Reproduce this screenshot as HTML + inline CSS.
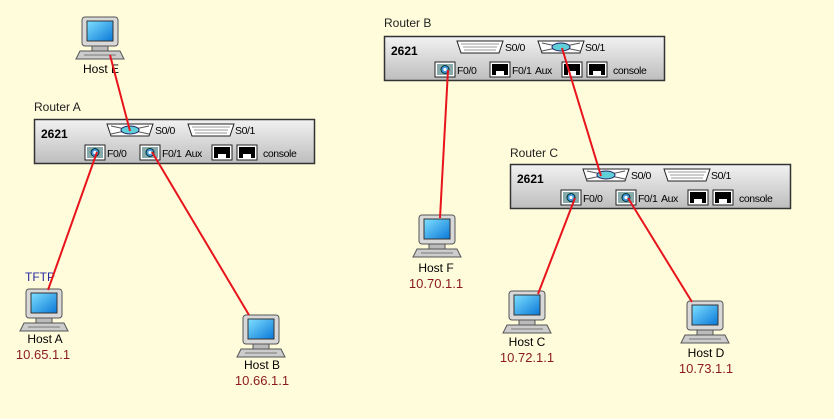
<!DOCTYPE html>
<html><head><meta charset="utf-8"><style>
html,body{margin:0;padding:0;background:#FFFCDC;}
svg{display:block;font-family:"Liberation Sans",sans-serif;}
.p{font-size:10.5px;letter-spacing:-0.4px;}
</style></head><body>
<svg width="834" height="419" viewBox="0 0 834 419" xmlns="http://www.w3.org/2000/svg">
<defs>
<linearGradient id="rg" x1="0" y1="0" x2="0" y2="1"><stop offset="0" stop-color="#f2f2f2"/><stop offset="1" stop-color="#bdbdbd"/></linearGradient>
<linearGradient id="scr" x1="0" y1="0" x2="1" y2="1"><stop offset="0" stop-color="#7fe0ff"/><stop offset="1" stop-color="#0a78d8"/></linearGradient>
<g id="host">
<rect x="0" y="0" width="36" height="29" rx="3" fill="#d8d8d8" stroke="#555"/>
<rect x="5" y="4" width="26" height="20" fill="url(#scr)" stroke="#333"/>
<rect x="10" y="29" width="16" height="5" fill="#bbb" stroke="#555"/>
<polygon points="-2,34 38,34 42,42 -6,42" fill="#ccc" stroke="#555"/>
<line x1="2" y1="38" x2="34" y2="38" stroke="#777"/>
</g>
<g id="ser">
<polygon points="0,0 46,0 42,12 4,12" fill="#fff" stroke="#222"/>
<line x1="4" y1="3" x2="42" y2="3" stroke="#999"/><line x1="6" y1="6" x2="40" y2="6" stroke="#999"/><line x1="7" y1="9" x2="39" y2="9" stroke="#999"/>
</g>
<g id="serc">
<polygon points="0,0 46,0 42,12 4,12" fill="#fff" stroke="#222"/>
<line x1="4" y1="2" x2="42" y2="10" stroke="#555"/><line x1="4" y1="10" x2="42" y2="2" stroke="#555"/>
<ellipse cx="23" cy="6" rx="9" ry="4" fill="#5fd0d8" stroke="#226"/>
</g>
<g id="eth">
<rect x="0" y="0" width="20" height="15" fill="#fff" stroke="#222"/>
<rect x="2" y="2" width="16" height="11" fill="#000"/>
<rect x="6" y="9" width="8" height="4" fill="#fff"/>
</g>
<g id="ethc">
<rect x="0" y="0" width="20" height="15" fill="#fff" stroke="#222"/>
<polygon points="2,2 18,2 18,13 2,13" fill="#8aa"/>
<circle cx="10" cy="7.5" r="4" fill="#49d" stroke="#033"/>
<circle cx="10" cy="7.5" r="1.6" fill="#fff"/>
</g>
</defs>

<text x="34" y="111" font-size="12" fill="#222">Router A</text>
<g transform="translate(34,119)">
<rect x="0.5" y="0.5" width="280" height="44" fill="url(#rg)" stroke="#333" stroke-width="1.5"/>
<text x="7" y="19" font-size="12" font-weight="bold">2621</text>
<use href="#serc" x="73" y="5"/><text x="121" y="15" class="p">S0/0</text>
<use href="#ser" x="154" y="5"/><text x="201" y="15" class="p">S0/1</text>
<use href="#ethc" x="51" y="26"/><text x="73" y="38" class="p">F0/0</text>
<use href="#ethc" x="106" y="26"/><text x="128" y="38" class="p">F0/1</text>
<text x="151" y="38" class="p">Aux</text>
<use href="#eth" x="178" y="26"/><use href="#eth" x="203" y="26"/>
<text x="229" y="38" class="p">console</text>
</g>
<text x="384" y="27" font-size="12" fill="#222">Router B</text>
<g transform="translate(384,36)">
<rect x="0.5" y="0.5" width="280" height="44" fill="url(#rg)" stroke="#333" stroke-width="1.5"/>
<text x="7" y="19" font-size="12" font-weight="bold">2621</text>
<use href="#ser" x="73" y="5"/><text x="121" y="15" class="p">S0/0</text>
<use href="#serc" x="154" y="5"/><text x="201" y="15" class="p">S0/1</text>
<use href="#ethc" x="51" y="26"/><text x="73" y="38" class="p">F0/0</text>
<use href="#eth" x="106" y="26"/><text x="128" y="38" class="p">F0/1</text>
<text x="151" y="38" class="p">Aux</text>
<use href="#eth" x="178" y="26"/><use href="#eth" x="203" y="26"/>
<text x="229" y="38" class="p">console</text>
</g>
<text x="510" y="157" font-size="12" fill="#222">Router C</text>
<g transform="translate(510,164)">
<rect x="0.5" y="0.5" width="280" height="44" fill="url(#rg)" stroke="#333" stroke-width="1.5"/>
<text x="7" y="19" font-size="12" font-weight="bold">2621</text>
<use href="#serc" x="73" y="5"/><text x="121" y="15" class="p">S0/0</text>
<use href="#ser" x="154" y="5"/><text x="201" y="15" class="p">S0/1</text>
<use href="#ethc" x="51" y="26"/><text x="73" y="38" class="p">F0/0</text>
<use href="#ethc" x="106" y="26"/><text x="128" y="38" class="p">F0/1</text>
<text x="151" y="38" class="p">Aux</text>
<use href="#eth" x="178" y="26"/><use href="#eth" x="203" y="26"/>
<text x="229" y="38" class="p">console</text>
</g>

<use href="#host" x="82" y="17"/>
<text x="101" y="73" font-size="12" text-anchor="middle">Host E</text>
<use href="#host" x="26" y="289"/>
<text x="25" y="281" font-size="12" fill="#2a2aa0">TFTP</text>
<text x="45" y="343" font-size="12" text-anchor="middle">Host A</text>
<text x="43" y="359" font-size="13" fill="#8a1a1a" text-anchor="middle">10.65.1.1</text>
<use href="#host" x="243" y="315"/>
<text x="262" y="369" font-size="12" text-anchor="middle">Host B</text>
<text x="262" y="385" font-size="13" fill="#8a1a1a" text-anchor="middle">10.66.1.1</text>
<use href="#host" x="419" y="215"/>
<text x="436" y="272" font-size="12" text-anchor="middle">Host F</text>
<text x="436" y="288" font-size="13" fill="#8a1a1a" text-anchor="middle">10.70.1.1</text>
<use href="#host" x="509" y="291"/>
<text x="527" y="346" font-size="12" text-anchor="middle">Host C</text>
<text x="527" y="362" font-size="13" fill="#8a1a1a" text-anchor="middle">10.72.1.1</text>
<use href="#host" x="687" y="301"/>
<text x="706" y="357" font-size="12" text-anchor="middle">Host D</text>
<text x="706" y="373" font-size="13" fill="#8a1a1a" text-anchor="middle">10.73.1.1</text>

<g stroke="#e8141c" stroke-width="2">
<line x1="110" y1="55" x2="130" y2="131"/>
<line x1="48" y1="290" x2="97" y2="152"/>
<line x1="249" y1="315" x2="152" y2="152"/>
<line x1="440" y1="218" x2="448" y2="70"/>
<line x1="562" y1="48" x2="601" y2="176"/>
<line x1="538" y1="294" x2="575" y2="198"/>
<line x1="692" y1="302" x2="628" y2="198"/>
</g>
</svg>
</body></html>
